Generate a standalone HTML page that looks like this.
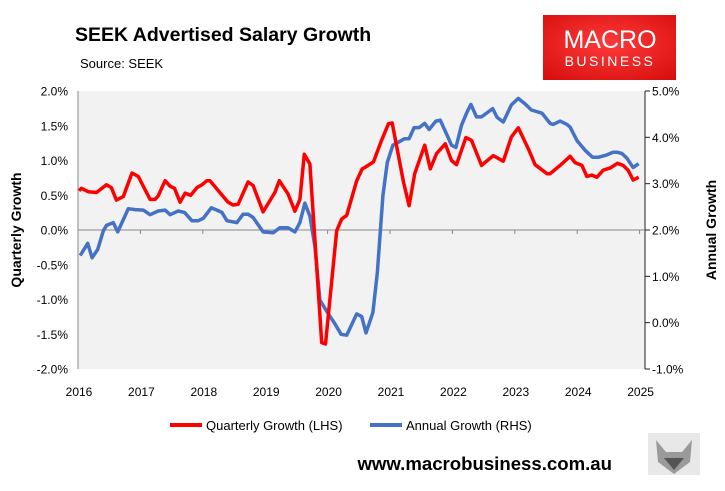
<!DOCTYPE html>
<html><head><meta charset="utf-8">
<style>
body{margin:0;background:#fff;width:725px;height:486px;overflow:hidden;font-family:"Liberation Sans",sans-serif;}
svg text{font-family:"Liberation Sans",sans-serif;}
</style></head>
<body>
<svg id="chart" width="725" height="486" viewBox="0 0 725 486">
  <text x="75" y="41" font-size="19.5" font-weight="bold" fill="#000">SEEK Advertised Salary Growth</text>
  <text x="80" y="68" font-size="13" fill="#000">Source: SEEK</text>
  <g>
    <defs><radialGradient id="lg" cx="0.5" cy="0.45" r="0.7"><stop offset="0" stop-color="#ff3a3a"/><stop offset="1" stop-color="#d80f0f"/></radialGradient></defs>
    <rect x="543" y="15" width="133" height="65" fill="url(#lg)"/>
    <text x="610" y="48" font-size="25" fill="#fff" text-anchor="middle">MACRO</text>
    <text x="610" y="66" font-size="14" fill="#fff" text-anchor="middle" letter-spacing="2.5">BUSINESS</text>
  </g>
  <rect x="78" y="91" width="567" height="278" fill="#f2f2f2"/>
  <g id="axes"></g>
  <g id="series"></g>
  <text transform="translate(21,230) rotate(-90)" font-size="14" font-weight="bold" text-anchor="middle">Quarterly Growth</text>
  <text transform="translate(716,230) rotate(-90)" font-size="14" font-weight="bold" text-anchor="middle">Annual Growth</text>
  <g>
    <g>
      <line x1="170" y1="425" x2="202" y2="425" stroke="#ff0000" stroke-width="4"/>
      <text x="206" y="430" font-size="13">Quarterly Growth (LHS)</text>
    </g>
    <g>
      <line x1="370" y1="425" x2="402" y2="425" stroke="#4472c4" stroke-width="4"/>
      <text x="406" y="430" font-size="13">Annual Growth (RHS)</text>
    </g>
  </g>
  <text x="612" y="470" font-size="18.6" font-weight="bold" text-anchor="end">www.macrobusiness.com.au</text>
  <g>
    <rect x="648" y="433" width="52" height="42" fill="#e8e8e8"/>
    <path d="M656 440 L666 452 L682 452 L692 440 L690 462 L674 474 L658 462 Z" fill="#9a9a9a"/>
    <path d="M664 458 L684 458 L674 470 Z" fill="#555"/>
  </g>
</svg>
<script>
const qDates=[2016.0,2016.04,2016.15,2016.28,2016.44,2016.52,2016.60,2016.71,2016.85,2016.95,2017.14,2017.22,2017.27,2017.38,2017.46,2017.53,2017.62,2017.70,2017.79,2017.89,2017.97,2018.05,2018.10,2018.21,2018.39,2018.47,2018.55,2018.71,2018.79,2018.95,2019.14,2019.21,2019.35,2019.46,2019.54,2019.61,2019.70,2019.89,2019.95,2020.13,2020.21,2020.29,2020.45,2020.54,2020.58,2020.72,2020.85,2020.96,2021.02,2021.20,2021.29,2021.38,2021.54,2021.63,2021.73,2021.87,2021.97,2022.05,2022.20,2022.29,2022.45,2022.64,2022.80,2022.93,2023.04,2023.20,2023.31,2023.50,2023.55,2023.71,2023.87,2023.95,2024.06,2024.14,2024.22,2024.30,2024.40,2024.51,2024.63,2024.72,2024.80,2024.88,2024.97];
const qValues=[0.565,0.60,0.55,0.54,0.65,0.61,0.43,0.48,0.82,0.77,0.44,0.44,0.49,0.71,0.63,0.60,0.40,0.53,0.50,0.61,0.65,0.71,0.71,0.59,0.40,0.36,0.37,0.69,0.64,0.26,0.54,0.71,0.52,0.27,0.44,1.09,0.95,-1.62,-1.64,-0.01,0.16,0.21,0.71,0.88,0.90,0.98,1.29,1.53,1.54,0.69,0.35,0.81,1.22,0.88,1.10,1.24,1.00,0.94,1.33,1.29,0.93,1.07,0.99,1.34,1.47,1.17,0.94,0.81,0.81,0.93,1.06,0.97,0.93,0.77,0.79,0.76,0.86,0.89,0.96,0.93,0.86,0.72,0.76];
const aDates=[2016.02,2016.14,2016.21,2016.30,2016.39,2016.44,2016.55,2016.62,2016.79,2016.90,2017.03,2017.14,2017.27,2017.38,2017.46,2017.59,2017.69,2017.81,2017.91,2017.99,2018.12,2018.21,2018.29,2018.37,2018.53,2018.63,2018.71,2018.79,2018.95,2019.11,2019.22,2019.35,2019.46,2019.54,2019.62,2019.70,2019.78,2019.86,2019.99,2020.10,2020.20,2020.29,2020.45,2020.53,2020.60,2020.71,2020.78,2020.87,2020.94,2021.03,2021.22,2021.29,2021.37,2021.45,2021.54,2021.61,2021.72,2021.79,2021.90,2021.97,2022.04,2022.13,2022.22,2022.28,2022.37,2022.45,2022.63,2022.70,2022.80,2022.93,2023.04,2023.15,2023.25,2023.42,2023.55,2023.60,2023.71,2023.82,2023.87,2023.98,2024.11,2024.23,2024.32,2024.46,2024.56,2024.62,2024.70,2024.78,2024.88,2024.97];
const aValues=[1.45,1.71,1.40,1.58,1.98,2.10,2.16,1.96,2.46,2.44,2.43,2.33,2.41,2.43,2.33,2.41,2.38,2.20,2.20,2.25,2.48,2.43,2.38,2.20,2.16,2.34,2.34,2.27,1.96,1.94,2.05,2.05,1.96,2.16,2.58,2.30,1.65,0.49,0.20,-0.02,-0.25,-0.27,0.19,0.13,-0.22,0.22,1.07,2.74,3.46,3.83,3.97,3.97,4.21,4.21,4.30,4.17,4.35,4.37,4.04,3.83,3.78,4.26,4.55,4.71,4.44,4.44,4.62,4.43,4.33,4.70,4.84,4.72,4.59,4.52,4.30,4.28,4.35,4.28,4.22,3.93,3.72,3.57,3.57,3.62,3.68,3.68,3.65,3.55,3.35,3.43];
const leftTicks=[-2.0,-1.5,-1.0,-0.5,0.0,0.5,1.0,1.5,2.0];
const rightTicks=[-1.0,0.0,1.0,2.0,3.0,4.0,5.0];
const yearTicks=[2016,2017,2018,2019,2020,2021,2022,2023,2024,2025];

const X0=78,X1=645,Y0=91,Y1=369;
function xs(t){return 79+(t-2016)*62.4;}
function yl(v){return Y1-(v+2)/4*(Y1-Y0);}
function yr(v){return Y1-(v+1)/6*(Y1-Y0);}
const NS='http://www.w3.org/2000/svg';
function mk(tag,attrs,parent,txt){const e=document.createElementNS(NS,tag);for(const k in attrs)e.setAttribute(k,attrs[k]);if(txt!==undefined)e.textContent=txt;parent.appendChild(e);return e;}
const axes=document.getElementById('axes'),series=document.getElementById('series');
let e;
e=mk('line',{x1:X0,y1:Y0,x2:X0,y2:Y1,stroke:'#888','stroke-width':1},axes);


e=mk('line',{x1:X1,y1:Y0,x2:X1,y2:Y1,stroke:'#222','stroke-width':1},axes);


e=mk('line',{x1:X0,y1:yl(0),x2:X1,y2:yl(0),stroke:'#888','stroke-width':1},axes);


leftTicks.forEach(v=>{
  e=mk('text',{x:68,y:yl(v)+4.5,'font-size':12,'text-anchor':'end'},axes,v.toFixed(1)+'%');
  
  
});
rightTicks.forEach(v=>{
  mk('line',{x1:X1,y1:yr(v),x2:X1+5,y2:yr(v),stroke:'#222'},axes);
  e=mk('text',{x:652,y:yr(v)+4.5,'font-size':12},axes,v.toFixed(1)+'%');
  
  
});
yearTicks.forEach(y=>{
  if(y>2016) mk('line',{x1:xs(y)-1,y1:yl(0),x2:xs(y)-1,y2:yl(0)+4,stroke:'#888'},axes);
  e=mk('text',{x:xs(y),y:396,'font-size':12,'text-anchor':'middle'},axes,String(y));
  
  
});
function line(d,v,f,col,name){
  const pts=d.map((t,i)=>xs(t).toFixed(1)+','+f(v[i]).toFixed(1)).join(' ');
  const p=mk('polyline',{points:pts,fill:'none',stroke:col,'stroke-width':3.5,'stroke-linejoin':'round'},series);
  
  
}
line(aDates,aValues,yr,'#4472c4','annual-growth-line');
line(qDates,qValues,yl,'#ff0000','quarterly-growth-line');
</script>
</body></html>
